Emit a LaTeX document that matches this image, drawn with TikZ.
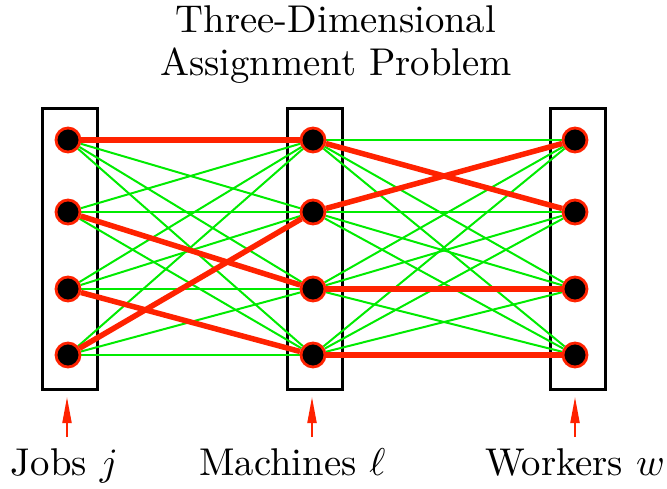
\documentclass[tikz,border=0pt]{standalone}
\usetikzlibrary{arrows.meta,backgrounds}

\definecolor{asgred}{RGB}{255,34,0}
\definecolor{asggreen}{RGB}{0,235,0}

\tikzset{
  vert/.style={circle, fill=black, draw=asgred, line width=2.8pt, minimum size=24pt, inner sep=0pt},
  colbox/.style={draw=black, line width=3pt, minimum width=55pt, minimum height=281pt, inner sep=0pt},
  cand/.style={asggreen, line width=2pt},
  chosen/.style={asgred, line width=5.5pt},
  pointer/.style={asgred, line width=2pt, -{Triangle[length=26pt,width=9pt]}, shorten >=6pt},
  lbl/.style={font=\fontsize{10}{11.1}\selectfont, scale=3.87, inner sep=0pt}
}

\begin{document}
\begin{tikzpicture}[x=1pt, y=-1pt]
    \useasboundingbox (0,0) rectangle (667,489);

    % Title
    \node[lbl, align=center, anchor=north] (title) at (336,5) {Three-Dimensional\\Assignment Problem};

    % Vertices: jobs, machines, workers
    \foreach \i/\y in {1/140, 2/212, 3/289, 4/355} {
        \node[vert] (j\i) at (68,\y) {};
        \node[vert] (m\i) at (313,\y) {};
        \node[vert] (w\i) at (575,\y) {};
    }

    \begin{scope}[on background layer]
        % Column boxes
        \node[colbox] (jbox) at (70,249) {};
        \node[colbox] (mbox) at (315,249) {};
        \node[colbox] (wbox) at (577.5,249) {};

        % All candidate pairs
        \foreach \a in {1,...,4}
            \foreach \b in {1,...,4} {
                \draw[cand] (j\a) -- (m\b);
                \draw[cand] (m\a) -- (w\b);
            }

        % Chosen assignment
        \draw[chosen] (j1) -- (m1);
        \draw[chosen] (j2) -- (m3);
        \draw[chosen] (j3) -- (m4);
        \draw[chosen] (j4) -- (m2);
        \draw[chosen] (m1) -- (w2);
        \draw[chosen] (m2) -- (w1);
        \draw[chosen] (m3) -- (w3);
        \draw[chosen] (m4) -- (w4);
    \end{scope}

    % Pointers and labels
    \coordinate (jtail) at (67,437);
    \coordinate (mtail) at (312,437);
    \coordinate (wtail) at (575,437);
    \draw[pointer] (jtail) -- (jtail |- jbox.south);
    \draw[pointer] (mtail) -- (mtail |- mbox.south);
    \draw[pointer] (wtail) -- (wtail |- wbox.south);

    \node[lbl, anchor=base] (jlbl) at (64.5,475) {Jobs $j$};
    \node[lbl, anchor=base] (mlbl) at (292.5,475) {Machines $\ell$};
    \node[lbl, anchor=base] (wlbl) at (575,475) {Workers $w$};
\end{tikzpicture}
\end{document}
